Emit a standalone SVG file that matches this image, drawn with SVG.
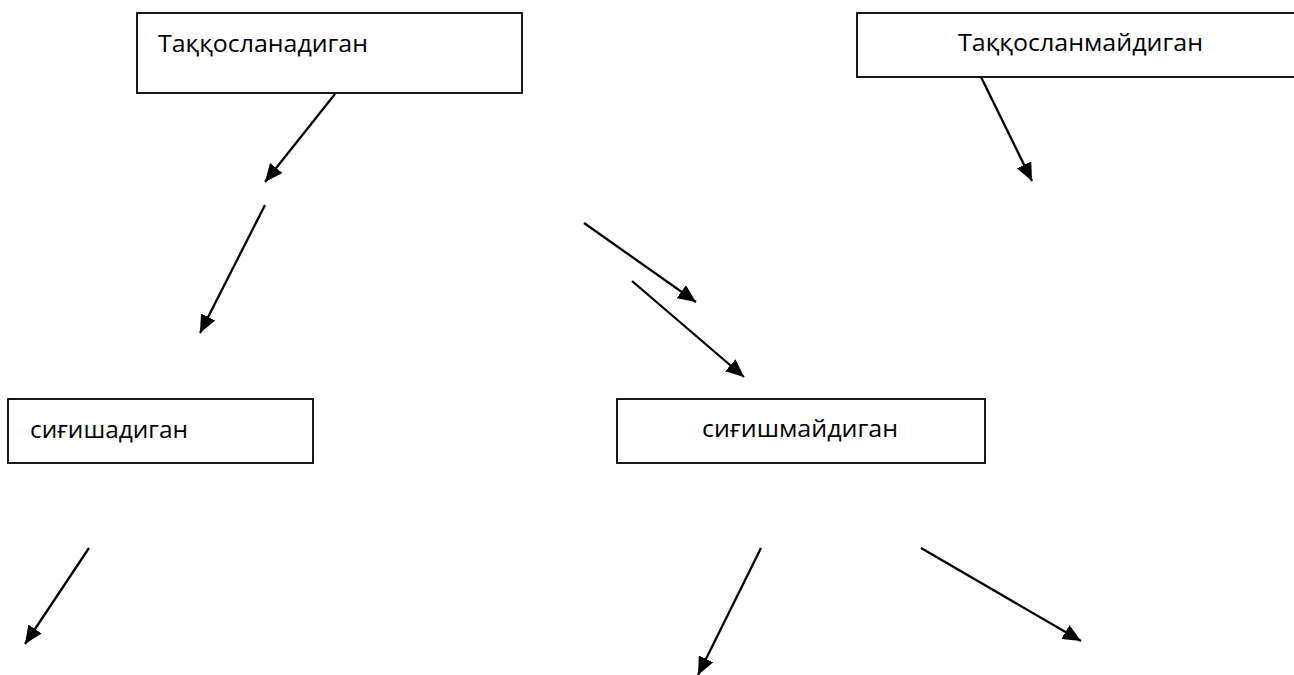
<svg xmlns="http://www.w3.org/2000/svg" width="1294" height="675" viewBox="0 0 1294 675">
  <style>
    .box { fill: #ffffff; stroke: #000000; stroke-width: 1.8; }
    .lbl { font-family: "Open Sans", "Liberation Sans", sans-serif; font-size: 23px; fill: #000000; }
    .conn { stroke: #000000; stroke-width: 2.3; fill: none; marker-end: url(#arrow); }
  </style>
  <defs>
    <marker id="arrow" markerUnits="userSpaceOnUse" markerWidth="19" markerHeight="16" refX="18" refY="8" orient="auto">
      <path d="M0,0 L18,8 L0,16 Z" fill="#000000"/>
    </marker>
  </defs>
  <rect width="1294" height="675" fill="#ffffff"/>
  <g id="node-taqqoslanadigan">
    <rect class="box" x="137" y="13" width="385" height="80"/>
    <text class="lbl" x="158" y="52" textLength="210" lengthAdjust="spacingAndGlyphs">Таққосланадиган</text>
  </g>
  <g id="node-taqqoslanmaydigan">
    <rect class="box" x="857" y="13" width="460" height="64"/>
    <text class="lbl" x="958" y="51" textLength="245" lengthAdjust="spacingAndGlyphs">Таққосланмайдиган</text>
  </g>
  <g id="node-sighishadigan">
    <rect class="box" x="8" y="399" width="305" height="64"/>
    <text class="lbl" x="30" y="438" textLength="158" lengthAdjust="spacingAndGlyphs">сиғишадиган</text>
  </g>
  <g id="node-sighishmaydigan">
    <rect class="box" x="617" y="399" width="368" height="64"/>
    <text class="lbl" x="702" y="437" textLength="196" lengthAdjust="spacingAndGlyphs">сиғишмайдиган</text>
  </g>
  <g id="connectors">
    <line class="conn" x1="335" y1="94" x2="265" y2="182"/>
    <line class="conn" x1="265" y1="205" x2="200" y2="333"/>
    <line class="conn" x1="981" y1="77" x2="1032" y2="181"/>
    <line class="conn" x1="584" y1="223" x2="696" y2="302"/>
    <line class="conn" x1="632" y1="281" x2="744" y2="377"/>
    <line class="conn" x1="89" y1="548" x2="25" y2="644"/>
    <line class="conn" x1="761" y1="548" x2="698" y2="675"/>
    <line class="conn" x1="921" y1="548" x2="1081" y2="641"/>
  </g>
</svg>
